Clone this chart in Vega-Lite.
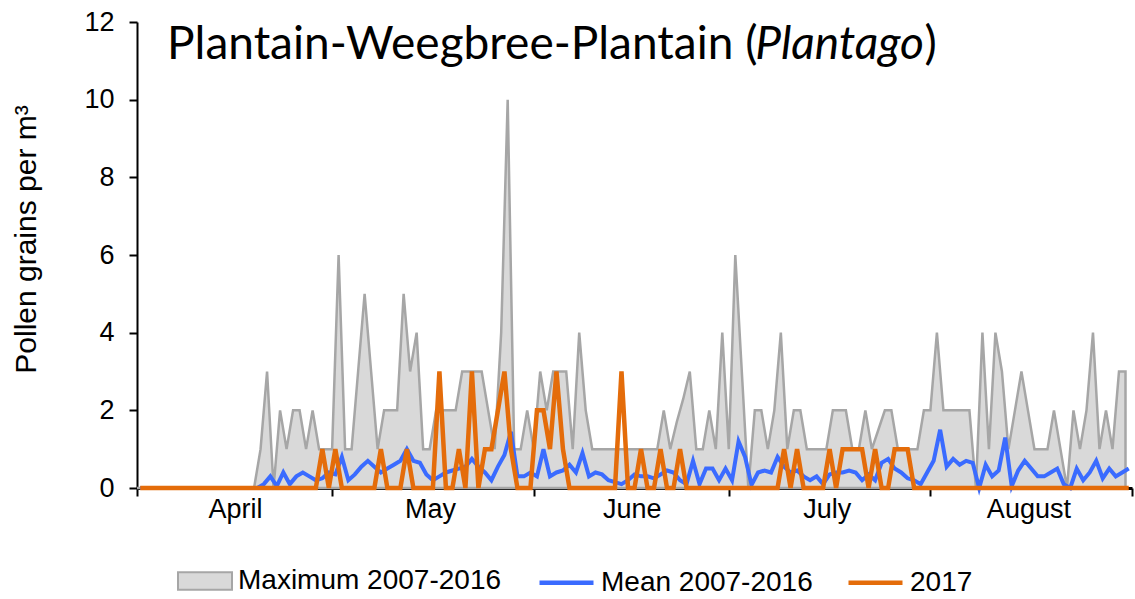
{
  "$schema": "https://vega.github.io/schema/vega-lite/v6.json",
  "width": 995,
  "height": 466,
  "autosize": {"type": "none"},
  "padding": {"left": 137, "top": 22, "right": 3, "bottom": 111},
  "background": "white",
  "datasets": {
    "pollen": [
    {"date":"2017-04-01","max":0,"mean":0,"y2017":0},
    {"date":"2017-04-02","max":0,"mean":0,"y2017":0},
    {"date":"2017-04-03","max":0,"mean":0,"y2017":0},
    {"date":"2017-04-04","max":0,"mean":0,"y2017":0},
    {"date":"2017-04-05","max":0,"mean":0,"y2017":0},
    {"date":"2017-04-06","max":0,"mean":0,"y2017":0},
    {"date":"2017-04-07","max":0,"mean":0,"y2017":0},
    {"date":"2017-04-08","max":0,"mean":0,"y2017":0},
    {"date":"2017-04-09","max":0,"mean":0,"y2017":0},
    {"date":"2017-04-10","max":0,"mean":0,"y2017":0},
    {"date":"2017-04-11","max":0,"mean":0,"y2017":0},
    {"date":"2017-04-12","max":0,"mean":0,"y2017":0},
    {"date":"2017-04-13","max":0,"mean":0,"y2017":0},
    {"date":"2017-04-14","max":0,"mean":0,"y2017":0},
    {"date":"2017-04-15","max":0,"mean":0,"y2017":0},
    {"date":"2017-04-16","max":0,"mean":0,"y2017":0},
    {"date":"2017-04-17","max":0,"mean":0,"y2017":0},
    {"date":"2017-04-18","max":0,"mean":0,"y2017":0},
    {"date":"2017-04-19","max":0,"mean":0,"y2017":0},
    {"date":"2017-04-20","max":1,"mean":0.1,"y2017":0},
    {"date":"2017-04-21","max":3,"mean":0.3,"y2017":0},
    {"date":"2017-04-22","max":0,"mean":0.05,"y2017":0},
    {"date":"2017-04-23","max":2,"mean":0.4,"y2017":0},
    {"date":"2017-04-24","max":1,"mean":0.1,"y2017":0},
    {"date":"2017-04-25","max":2,"mean":0.3,"y2017":0},
    {"date":"2017-04-26","max":2,"mean":0.4,"y2017":0},
    {"date":"2017-04-27","max":1,"mean":0.3,"y2017":0},
    {"date":"2017-04-28","max":2,"mean":0.2,"y2017":0},
    {"date":"2017-04-29","max":1,"mean":0.25,"y2017":1},
    {"date":"2017-04-30","max":1,"mean":0.4,"y2017":0},
    {"date":"2017-05-01","max":1,"mean":0.35,"y2017":1},
    {"date":"2017-05-02","max":6,"mean":0.8,"y2017":0},
    {"date":"2017-05-03","max":1,"mean":0.2,"y2017":0},
    {"date":"2017-05-04","max":1,"mean":0.35,"y2017":0},
    {"date":"2017-05-05","max":3,"mean":0.55,"y2017":0},
    {"date":"2017-05-06","max":5,"mean":0.7,"y2017":0},
    {"date":"2017-05-07","max":3,"mean":0.55,"y2017":0},
    {"date":"2017-05-08","max":1,"mean":0.4,"y2017":1},
    {"date":"2017-05-09","max":2,"mean":0.5,"y2017":0},
    {"date":"2017-05-10","max":2,"mean":0.6,"y2017":0},
    {"date":"2017-05-11","max":2,"mean":0.7,"y2017":0},
    {"date":"2017-05-12","max":5,"mean":1.0,"y2017":1},
    {"date":"2017-05-13","max":3,"mean":0.7,"y2017":0},
    {"date":"2017-05-14","max":4,"mean":0.65,"y2017":0},
    {"date":"2017-05-15","max":1,"mean":0.35,"y2017":0},
    {"date":"2017-05-16","max":1,"mean":0.2,"y2017":0},
    {"date":"2017-05-17","max":2,"mean":0.3,"y2017":3},
    {"date":"2017-05-18","max":2,"mean":0.4,"y2017":0},
    {"date":"2017-05-19","max":2,"mean":0.45,"y2017":0},
    {"date":"2017-05-20","max":2,"mean":0.5,"y2017":1},
    {"date":"2017-05-21","max":3,"mean":0.55,"y2017":0},
    {"date":"2017-05-22","max":3,"mean":0.75,"y2017":3},
    {"date":"2017-05-23","max":3,"mean":0.55,"y2017":0},
    {"date":"2017-05-24","max":3,"mean":0.4,"y2017":1},
    {"date":"2017-05-25","max":2,"mean":0.2,"y2017":1},
    {"date":"2017-05-26","max":1,"mean":0.55,"y2017":2},
    {"date":"2017-05-27","max":4,"mean":0.85,"y2017":3},
    {"date":"2017-05-28","max":10,"mean":1.45,"y2017":1},
    {"date":"2017-05-29","max":1,"mean":0.3,"y2017":0},
    {"date":"2017-05-30","max":1,"mean":0.3,"y2017":0},
    {"date":"2017-05-31","max":2,"mean":0.4,"y2017":0},
    {"date":"2017-06-01","max":1,"mean":0.3,"y2017":2},
    {"date":"2017-06-02","max":3,"mean":1.0,"y2017":2},
    {"date":"2017-06-03","max":2,"mean":0.3,"y2017":1},
    {"date":"2017-06-04","max":3,"mean":0.4,"y2017":3},
    {"date":"2017-06-05","max":3,"mean":0.45,"y2017":1},
    {"date":"2017-06-06","max":3,"mean":0.6,"y2017":0},
    {"date":"2017-06-07","max":1,"mean":0.4,"y2017":0},
    {"date":"2017-06-08","max":4,"mean":0.9,"y2017":0},
    {"date":"2017-06-09","max":2,"mean":0.3,"y2017":0},
    {"date":"2017-06-10","max":1,"mean":0.4,"y2017":0},
    {"date":"2017-06-11","max":1,"mean":0.35,"y2017":0},
    {"date":"2017-06-12","max":1,"mean":0.2,"y2017":0},
    {"date":"2017-06-13","max":1,"mean":0.15,"y2017":0},
    {"date":"2017-06-14","max":1,"mean":0.1,"y2017":3},
    {"date":"2017-06-15","max":1,"mean":0.2,"y2017":0},
    {"date":"2017-06-16","max":1,"mean":0.35,"y2017":0},
    {"date":"2017-06-17","max":1,"mean":0.3,"y2017":1},
    {"date":"2017-06-18","max":1,"mean":0.3,"y2017":0},
    {"date":"2017-06-19","max":1,"mean":0.25,"y2017":0},
    {"date":"2017-06-20","max":1,"mean":0.35,"y2017":1},
    {"date":"2017-06-21","max":2,"mean":0.45,"y2017":0},
    {"date":"2017-06-22","max":1,"mean":0.4,"y2017":0},
    {"date":"2017-06-23","max":1.7,"mean":0.2,"y2017":1},
    {"date":"2017-06-24","max":2.3,"mean":0.1,"y2017":0},
    {"date":"2017-06-25","max":3,"mean":0.7,"y2017":0},
    {"date":"2017-06-26","max":1,"mean":0.1,"y2017":0},
    {"date":"2017-06-27","max":1,"mean":0.5,"y2017":0},
    {"date":"2017-06-28","max":2,"mean":0.5,"y2017":0},
    {"date":"2017-06-29","max":1,"mean":0.2,"y2017":0},
    {"date":"2017-06-30","max":4,"mean":0.5,"y2017":0},
    {"date":"2017-07-01","max":1,"mean":0.2,"y2017":0},
    {"date":"2017-07-02","max":6,"mean":1.2,"y2017":0},
    {"date":"2017-07-03","max":3,"mean":0.8,"y2017":0},
    {"date":"2017-07-04","max":0,"mean":0.08,"y2017":0},
    {"date":"2017-07-05","max":2,"mean":0.4,"y2017":0},
    {"date":"2017-07-06","max":2,"mean":0.45,"y2017":0},
    {"date":"2017-07-07","max":1,"mean":0.4,"y2017":0},
    {"date":"2017-07-08","max":2,"mean":0.8,"y2017":0},
    {"date":"2017-07-09","max":4,"mean":0.55,"y2017":1},
    {"date":"2017-07-10","max":1,"mean":0.4,"y2017":0},
    {"date":"2017-07-11","max":2,"mean":0.45,"y2017":1},
    {"date":"2017-07-12","max":2,"mean":0.3,"y2017":0},
    {"date":"2017-07-13","max":1,"mean":0.2,"y2017":0},
    {"date":"2017-07-14","max":1,"mean":0.3,"y2017":0},
    {"date":"2017-07-15","max":1,"mean":0.1,"y2017":0},
    {"date":"2017-07-16","max":1,"mean":0.35,"y2017":1},
    {"date":"2017-07-17","max":2,"mean":0.4,"y2017":0},
    {"date":"2017-07-18","max":2,"mean":0.4,"y2017":1},
    {"date":"2017-07-19","max":2,"mean":0.45,"y2017":1},
    {"date":"2017-07-20","max":1,"mean":0.4,"y2017":1},
    {"date":"2017-07-21","max":1,"mean":0.2,"y2017":1},
    {"date":"2017-07-22","max":2,"mean":0.35,"y2017":0},
    {"date":"2017-07-23","max":1,"mean":0.2,"y2017":1},
    {"date":"2017-07-24","max":1.5,"mean":0.65,"y2017":0},
    {"date":"2017-07-25","max":2,"mean":0.75,"y2017":0},
    {"date":"2017-07-26","max":2,"mean":0.5,"y2017":1},
    {"date":"2017-07-27","max":1,"mean":0.4,"y2017":1},
    {"date":"2017-07-28","max":1,"mean":0.25,"y2017":1},
    {"date":"2017-07-29","max":1,"mean":0.2,"y2017":0},
    {"date":"2017-07-30","max":1,"mean":0.1,"y2017":0},
    {"date":"2017-07-31","max":2,"mean":0.4,"y2017":0},
    {"date":"2017-08-01","max":2,"mean":0.7,"y2017":0},
    {"date":"2017-08-02","max":4,"mean":1.5,"y2017":0},
    {"date":"2017-08-03","max":2,"mean":0.55,"y2017":0},
    {"date":"2017-08-04","max":2,"mean":0.75,"y2017":0},
    {"date":"2017-08-05","max":2,"mean":0.6,"y2017":0},
    {"date":"2017-08-06","max":2,"mean":0.7,"y2017":0},
    {"date":"2017-08-07","max":2,"mean":0.65,"y2017":0},
    {"date":"2017-08-08","max":0,"mean":0,"y2017":0},
    {"date":"2017-08-09","max":4,"mean":0.6,"y2017":0},
    {"date":"2017-08-10","max":1,"mean":0.3,"y2017":0},
    {"date":"2017-08-11","max":4,"mean":0.45,"y2017":0},
    {"date":"2017-08-12","max":3,"mean":1.3,"y2017":0},
    {"date":"2017-08-13","max":1,"mean":0.05,"y2017":0},
    {"date":"2017-08-14","max":2,"mean":0.45,"y2017":0},
    {"date":"2017-08-15","max":3,"mean":0.7,"y2017":0},
    {"date":"2017-08-16","max":2,"mean":0.5,"y2017":0},
    {"date":"2017-08-17","max":1,"mean":0.3,"y2017":0},
    {"date":"2017-08-18","max":1,"mean":0.3,"y2017":0},
    {"date":"2017-08-19","max":1,"mean":0.4,"y2017":0},
    {"date":"2017-08-20","max":2,"mean":0.5,"y2017":0},
    {"date":"2017-08-21","max":1,"mean":0.1,"y2017":0},
    {"date":"2017-08-22","max":0,"mean":0,"y2017":0},
    {"date":"2017-08-23","max":2,"mean":0.5,"y2017":0},
    {"date":"2017-08-24","max":1,"mean":0.2,"y2017":0},
    {"date":"2017-08-25","max":2,"mean":0.4,"y2017":0},
    {"date":"2017-08-26","max":4,"mean":0.7,"y2017":0},
    {"date":"2017-08-27","max":1,"mean":0.25,"y2017":0},
    {"date":"2017-08-28","max":2,"mean":0.5,"y2017":0},
    {"date":"2017-08-29","max":1,"mean":0.3,"y2017":0},
    {"date":"2017-08-30","max":3,"mean":0.4,"y2017":0},
    {"date":"2017-08-31","max":3,"mean":0.5,"y2017":0}
    ]
  },
  "layer": [
    {
      "data": {"name": "pollen"},
      "mark": {"type": "area", "stroke": "#a6a6a6", "strokeWidth": 2.5, "opacity": 1, "fillOpacity": 1},
      "encoding": {
        "x": {
          "field": "date",
          "type": "temporal",
          "timeUnit": "utcyearmonthdate",
          "bandPosition": 0.5,
          "title": null,
          "scale": {"type": "utc", "domain": [1491004800000, 1504224000000]},
          "axis": {
            "values": [1491004800000, 1493596800000, 1496275200000, 1498867200000, 1501545600000, 1504224000000],
            "labelExpr": "utcFormat(datum.value, '%m') === '09' ? '' : utcFormat(datum.value, '%B')",
            "labelOffset": 98,
            "labelAlign": "center",
            "labelFlush": false,
            "labelOverlap": false,
            "labelBound": false,
            "labelFont": "Liberation Sans",
            "labelFontSize": 27,
            "labelColor": "#000000",
            "labelPadding": 0,
            "tickSize": 8,
            "tickWidth": 2,
            "tickColor": "#000000",
            "domainColor": "#000000",
            "domainWidth": 3,
            "grid": false
          }
        },
        "y": {
          "field": "max",
          "type": "quantitative",
          "title": "Pollen grains per m³",
          "scale": {"domain": [0, 12]},
          "axis": {
            "values": [0, 2, 4, 6, 8, 10, 12],
            "grid": false,
            "labelFont": "Liberation Sans",
            "labelFontSize": 27,
            "labelColor": "#000000",
            "labelPadding": 15,
            "labelFlush": false,
            "labelOverlap": false,
            "tickSize": 8,
            "tickWidth": 2,
            "tickColor": "#000000",
            "domainColor": "#000000",
            "domainWidth": 2,
            "titleFont": "Liberation Sans",
            "titleFontSize": 30,
            "titleFontWeight": "normal",
            "titleColor": "#000000",
            "titlePadding": 42,
            "titleY": 217
          }
        },
        "fill": {
          "datum": "Maximum 2007-2016",
          "type": "nominal",
          "scale": {"domain": ["Maximum 2007-2016"], "range": ["#d9d9d9"]},
          "legend": {
            "title": null,
            "orient": "none",
            "legendX": 40,
            "legendY": 531,
            "direction": "horizontal",
            "padding": 0,
            "labelFont": "Liberation Sans",
            "labelFontSize": 28,
            "labelColor": "#000000",
            "labelLimit": 0,
            "labelOffset": 5,
            "symbolSize": 2916,
            "symbolType": "M-1,-0.32H1V0.32H-1Z",
            "symbolStrokeColor": "#a6a6a6",
            "symbolStrokeWidth": 2,
            "symbolOpacity": 1
          }
        }
      }
    },
    {
      "data": {"name": "pollen"},
      "mark": {"type": "line", "strokeWidth": 4},
      "encoding": {
        "x": {"field": "date", "type": "temporal", "timeUnit": "utcyearmonthdate", "bandPosition": 0.5, "title": null},
        "y": {"field": "mean", "type": "quantitative", "title": "Pollen grains per m³"},
        "stroke": {
          "datum": "Mean 2007-2016",
          "type": "nominal",
          "scale": {"domain": ["Mean 2007-2016", "2017"], "range": ["#3a6bff", "#e46c0a"]},
          "legend": {
            "title": null,
            "orient": "none",
            "legendX": 400,
            "legendY": 531,
            "direction": "horizontal",
            "padding": 0,
            "labelFont": "Liberation Sans",
            "labelFontSize": 28,
            "labelColor": "#000000",
            "labelLimit": 0,
            "labelOffset": 5,
            "columnPadding": 26,
            "symbolSize": 2916,
            "symbolType": "stroke",
            "symbolStrokeWidth": 4.5
          }
        }
      }
    },
    {
      "data": {"name": "pollen"},
      "mark": {"type": "line", "strokeWidth": 4.5},
      "encoding": {
        "x": {"field": "date", "type": "temporal", "timeUnit": "utcyearmonthdate", "bandPosition": 0.5, "title": null},
        "y": {"field": "y2017", "type": "quantitative", "title": "Pollen grains per m³"},
        "stroke": {"datum": "2017", "type": "nominal"}
      }
    },
    {
      "data": {"values": [{"t": "Plantain-Weegbree-Plantain ("}]},
      "mark": {"type": "text", "align": "left", "baseline": "alphabetic", "font": "Lato", "fontSize": 46, "color": "#000000"},
      "encoding": {
        "x": {"datum": 1491404400000, "type": "temporal"},
        "y": {"datum": 11.05, "type": "quantitative"},
        "text": {"field": "t", "type": "nominal"}
      }
    },
    {
      "data": {"values": [{"t": "Plantago"}]},
      "mark": {"type": "text", "align": "left", "baseline": "alphabetic", "font": "Lato", "fontSize": 46, "fontStyle": "italic", "color": "#000000"},
      "encoding": {
        "x": {"datum": 1499220000000, "type": "temporal"},
        "y": {"datum": 11.05, "type": "quantitative"},
        "text": {"field": "t", "type": "nominal"}
      }
    },
    {
      "data": {"values": [{"t": ")"}]},
      "mark": {"type": "text", "align": "left", "baseline": "alphabetic", "font": "Lato", "fontSize": 46, "color": "#000000"},
      "encoding": {
        "x": {"datum": 1501465900000, "type": "temporal"},
        "y": {"datum": 11.05, "type": "quantitative"},
        "text": {"field": "t", "type": "nominal"}
      }
    }
  ],
  "config": {
    "view": {"stroke": null}
  }
}
